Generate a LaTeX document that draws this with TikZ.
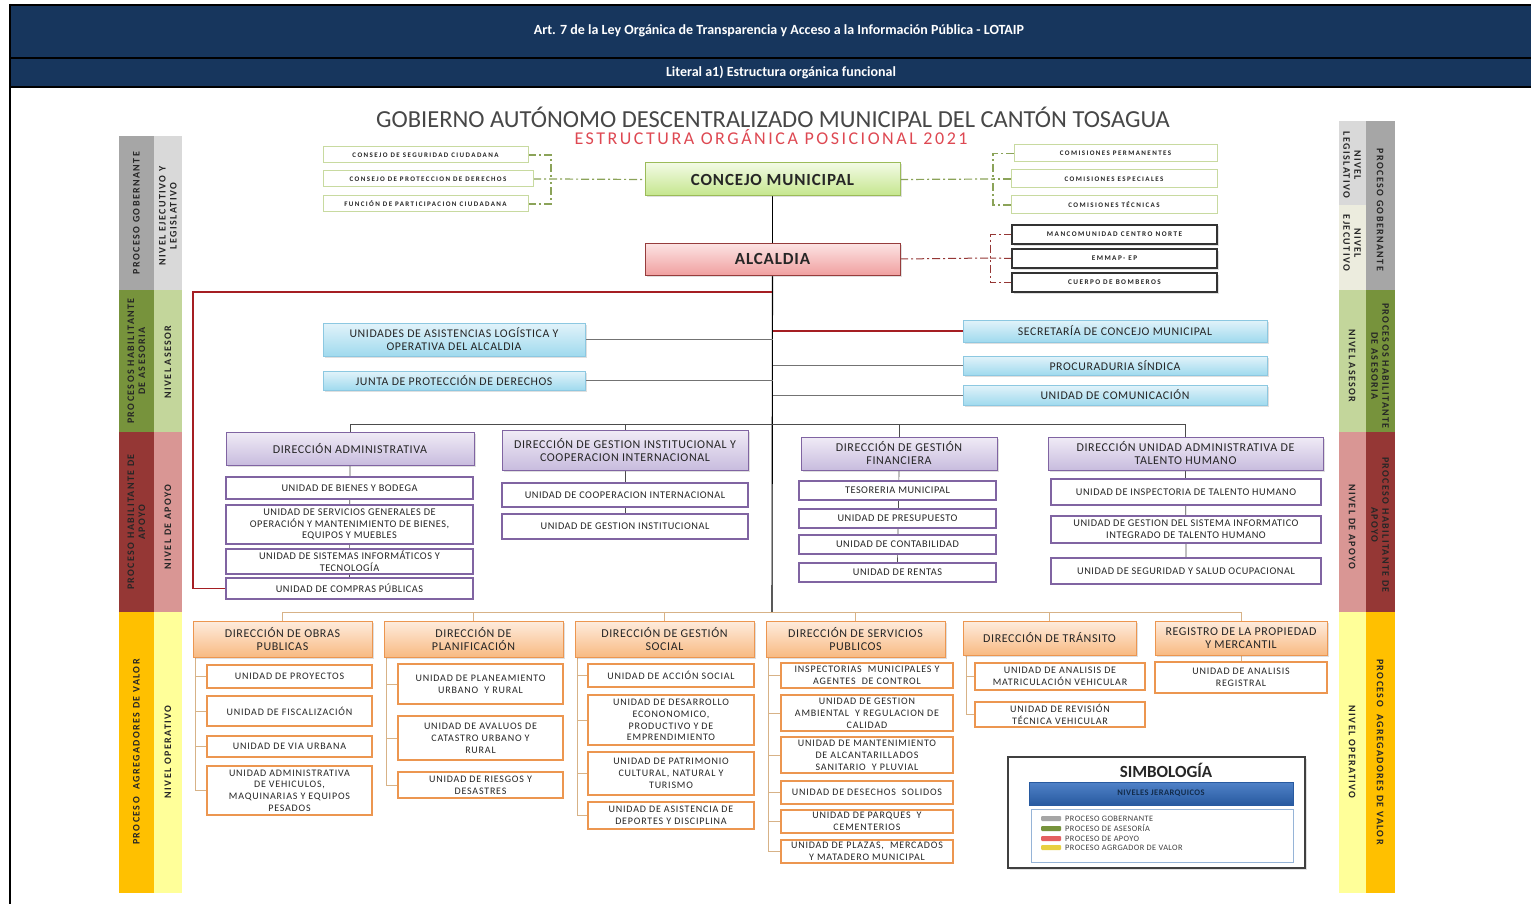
\documentclass[tikz,border=0pt]{standalone}
\usepackage{fontspec}
\setmainfont{Carlito}
\newfontfamily\fA{Carlito}[LetterSpace=5]
\newfontfamily\fD{Carlito}[LetterSpace=8]
\newfontfamily\fB{Carlito}[LetterSpace=14]
\newfontfamily\fC{Carlito}[LetterSpace=20]
\usetikzlibrary{backgrounds,shadows}
\pgfdeclarelayer{back0}
\pgfsetlayers{back0,background,main}
\definecolor{navy}{RGB}{23,54,93}
\definecolor{govD}{RGB}{166,166,166}
\definecolor{govL}{RGB}{217,217,217}
\definecolor{govE}{RGB}{236,236,222}
\definecolor{aseD}{RGB}{119,147,60}
\definecolor{aseL}{RGB}{195,214,155}
\definecolor{apoD}{RGB}{149,55,53}
\definecolor{apoL}{RGB}{217,150,148}
\definecolor{agrD}{RGB}{255,192,0}
\definecolor{agrL}{RGB}{255,255,153}
\definecolor{consB}{RGB}{200,218,160}
\definecolor{cmT}{RGB}{242,250,228}
\definecolor{cmBo}{RGB}{196,230,140}
\definecolor{cmB}{RGB}{155,187,89}
\definecolor{alT}{RGB}{252,228,228}
\definecolor{alBo}{RGB}{240,160,160}
\definecolor{alB}{RGB}{150,60,60}
\definecolor{aseT}{RGB}{226,243,250}
\definecolor{aseBo}{RGB}{160,218,238}
\definecolor{aseB}{RGB}{140,200,225}
\definecolor{purT}{RGB}{240,235,246}
\definecolor{purBo}{RGB}{200,188,222}
\definecolor{purB}{RGB}{128,100,162}
\definecolor{oraT}{RGB}{254,236,222}
\definecolor{oraBo}{RGB}{248,186,130}
\definecolor{oraB}{RGB}{236,150,80}
\definecolor{oraL}{RGB}{215,178,135}
\definecolor{redL}{RGB}{165,30,35}
\definecolor{subred}{RGB}{222,72,82}
\definecolor{njT}{RGB}{80,130,200}
\definecolor{njBo}{RGB}{40,90,160}
\definecolor{lgB}{RGB}{150,180,215}
\definecolor{leY}{RGB}{232,208,64}
\definecolor{leR}{RGB}{228,96,96}
\newcommand\mybox[7]{\node[#6,minimum width={(#4-#2)*1pt},minimum height={(#5-#3)*1pt}] (#1) at ({(#2+#4)/2},{(#3+#5)/2}) {#7};}
\begin{document}
\begin{tikzpicture}[x=1pt,y=-1pt,
  base/.style={draw, inner sep=1pt, outer sep=0pt, align=center, text=black!85},
  shad/.style={drop shadow={opacity=.25,shadow xshift=1.5pt,shadow yshift=-1.5pt}},
  cons/.style={base, draw=consB, line width=1pt, fill=white, font=\fC\bfseries\fontsize{7}{8}\selectfont},
  mbx/.style={base, draw=black!80, line width=1.6pt, fill=white, shad, font=\fC\bfseries\fontsize{7.2}{8}\selectfont},
  cmst/.style={base, draw=cmB, line width=1pt, top color=cmT, bottom color=cmBo, shad, font=\fA\bfseries\fontsize{17}{19}\selectfont},
  alst/.style={base, draw=alB, line width=1pt, top color=alT, bottom color=alBo, shad, font=\fA\bfseries\fontsize{17}{19}\selectfont},
  ase/.style={base, draw=aseB, line width=.8pt, top color=aseT, bottom color=aseBo, shad, font=\fA\fontsize{11.8}{13}\selectfont},
  dirp/.style={base, draw=purB, line width=.8pt, top color=purT, bottom color=purBo, shad, font=\fA\fontsize{12}{13}\selectfont},
  unp/.style={base, draw=purB, line width=1.3pt, fill=white, font=\fA\fontsize{10.3}{11.8}\selectfont},
  diro/.style={base, draw=oraB, line width=.8pt, top color=oraT, bottom color=oraBo, shad, font=\fA\fontsize{12}{13}\selectfont},
  uno/.style={base, draw=oraB, line width=1.5pt, fill=white, font=\fD\fontsize{10}{11.8}\selectfont},
  sideT/.style={font=\fB\bfseries\fontsize{10}{11}\selectfont, align=center, text=black!85},
  tr/.style={draw=black, line width=1.1pt},
  gdd/.style={draw=aseD!85, line width=1.2pt, dash pattern=on 8pt off 3pt on 2pt off 3pt},
  rdd/.style={draw=apoD, line width=1pt, dash pattern=on 8pt off 3pt on 2pt off 3pt},
  redl/.style={draw=redL, line width=1.6pt},
  grl/.style={draw=black!55, line width=1pt},
  pl/.style={draw=black!70, line width=.7pt},
  ol/.style={draw=oraL, line width=1pt}]
\useasboundingbox (0,0) rectangle (1531,904);
\begin{pgfonlayer}{back0}
\fill[white] (0,0) rectangle (1531,904);
\end{pgfonlayer}
% header
\fill[navy] (10,5) rectangle (1531,87);
\draw[line width=2pt] (10,5) -- (1531,5);
\draw[line width=2pt] (10,58.5) -- (1531,58.5);
\draw[line width=2pt] (10,87) -- (1531,87);
\draw[line width=2pt] (10,4) -- (10,904);
\node[text=white, font=\bfseries\fontsize{14}{16}\selectfont] (h1) at (779,31) {Art. 7 de la Ley Orgánica de Transparencia y Acceso a la Información Pública - LOTAIP};
\node[text=white, font=\bfseries\fontsize{14}{16}\selectfont] (h2) at (781,72) {Literal a1) Estructura orgánica funcional};
% titles
\node[anchor=base, inner sep=0pt, text height=15pt, text depth=0pt, font=\fontsize{24.5}{26}\selectfont, text=black!72] (t1) at (773,128) {GOBIERNO AUTÓNOMO DESCENTRALIZADO MUNICIPAL DEL CANTÓN TOSAGUA};
\node[anchor=base, inner sep=0pt, text height=11pt, text depth=0pt, font=\fB\fontsize{18}{19}\selectfont, text=subred] (t2) at (771,145) {ESTRUCTURA ORGÁNICA POSICIONAL 2021};
% left side bars
\fill[govD] (119,136) rectangle (154,290); \fill[govL] (154,136) rectangle (182,290);
\fill[aseD] (119,290) rectangle (154,432); \fill[aseL] (154,290) rectangle (182,432);
\fill[apoD] (119,432) rectangle (154,612); \fill[apoL] (154,432) rectangle (182,612);
\fill[agrD] (119,612) rectangle (154,893); \fill[agrL] (154,612) rectangle (182,893);
\node[sideT, rotate=90] (lt1) at (136.5,213) {PROCESO GOBERNANTE};
\node[sideT, rotate=90] (lt2) at (168,216) {NIVEL EJECUTIVO Y\\LEGISLATIVO};
\node[sideT, rotate=90] (lt3) at (136.5,361) {PROCESOS HABILITANTE\\DE ASESORIA};
\node[sideT, rotate=90] (lt4) at (168,362) {NIVEL ASESOR};
\node[sideT, rotate=90] (lt5) at (136.5,522) {PROCESO HABILITANTE DE\\APOYO};
\node[sideT, rotate=90] (lt6) at (168,527) {NIVEL DE APOYO};
\node[sideT, rotate=90] (lt7) at (136.5,752) {PROCESO\ \ AGREGADORES DE VALOR};
\node[sideT, rotate=90] (lt8) at (168,752) {NIVEL OPERATIVO};
% right side bars
\fill[govL] (1339,121) rectangle (1366,205); \fill[govE] (1339,205) rectangle (1366,290); \fill[govD] (1366,121) rectangle (1395,290);
\fill[aseL] (1339,290) rectangle (1366,432); \fill[aseD] (1366,290) rectangle (1395,432);
\fill[apoL] (1339,432) rectangle (1366,612); \fill[apoD] (1366,432) rectangle (1395,612);
\fill[agrL] (1339,612) rectangle (1366,893); \fill[agrD] (1366,612) rectangle (1395,893);
\node[sideT, rotate=-90] (rt1) at (1380,210) {PROCESO GOBERNANTE};
\node[sideT, rotate=-90] (rt2) at (1352,165) {NIVEL\\LEGISLATIVO};
\node[sideT, rotate=-90] (rt3) at (1352,243) {NIVEL\\EJECUTIVO};
\node[sideT, rotate=-90] (rt4) at (1380,366) {PROCESOS HABILITANTE\\DE ASESORIA};
\node[sideT, rotate=-90] (rt5) at (1352,366) {NIVEL ASESOR};
\node[sideT, rotate=-90] (rt6) at (1380,525) {PROCESO HABILITANTE DE\\APOYO};
\node[sideT, rotate=-90] (rt7) at (1352,527) {NIVEL DE APOYO};
\node[sideT, rotate=-90] (rt8) at (1380,752) {PROCESO\ \ AGREGADORES DE VALOR};
\node[sideT, rotate=-90] (rt9) at (1352,752) {NIVEL OPERATIVO};
% top level
\mybox{c1}{323}{147}{528}{163}{cons}{CONSEJO DE SEGURIDAD CIUDADANA}
\mybox{c2}{323}{171}{533}{187}{cons}{CONSEJO DE PROTECCION DE DERECHOS}
\mybox{c3}{323}{196}{528}{212}{cons}{FUNCIÓN DE PARTICIPACION CIUDADANA}
\mybox{cm}{645}{163}{900}{196}{cmst}{CONCEJO MUNICIPAL}
\mybox{k1}{1014}{145}{1217}{162}{cons}{COMISIONES PERMANENTES}
\mybox{k2}{1011}{170}{1217}{188}{cons}{COMISIONES ESPECIALES}
\mybox{k3}{1011}{196}{1217}{214}{cons}{COMISIONES TÉCNICAS}
\mybox{al}{645}{243}{900}{275}{alst}{ALCALDIA}
\mybox{m1}{1012}{225}{1217}{244}{mbx}{MANCOMUNIDAD CENTRO NORTE}
\mybox{m2}{1012}{249}{1217}{268}{mbx}{EMMAP- EP}
\mybox{m3}{1012}{273}{1217}{292}{mbx}{CUERPO DE BOMBEROS}
% asesor
\mybox{a1}{323}{323}{585}{356}{ase}{UNIDADES DE ASISTENCIAS LOGÍSTICA Y\\OPERATIVA DEL ALCALDIA}
\mybox{a2}{323}{371}{585}{390}{ase}{JUNTA DE PROTECCIÓN DE DERECHOS}
\mybox{a3}{963}{320}{1267}{342}{ase}{SECRETARÍA DE CONCEJO MUNICIPAL}
\mybox{a4}{963}{356}{1267}{375}{ase}{PROCURADURIA SÍNDICA}
\mybox{a5}{963}{385}{1267}{405}{ase}{UNIDAD DE COMUNICACIÓN}
% apoyo
\mybox{d1}{226}{432}{474}{465}{dirp}{DIRECCIÓN ADMINISTRATIVA}
\mybox{d2}{502}{430}{748}{470}{dirp}{DIRECCIÓN DE GESTION INSTITUCIONAL Y\\COOPERACION INTERNACIONAL}
\mybox{d3}{801}{437}{997}{470}{dirp}{DIRECCIÓN DE GESTIÓN\\FINANCIERA}
\mybox{d4}{1048}{437}{1323}{470}{dirp}{DIRECCIÓN UNIDAD ADMINISTRATIVA DE\\TALENTO HUMANO}
\mybox{u11}{226}{477}{473}{499}{unp}{UNIDAD DE BIENES Y BODEGA}
\mybox{u12}{226}{505}{473}{544}{unp}{UNIDAD DE SERVICIOS GENERALES DE\\OPERACIÓN Y MANTENIMIENTO DE BIENES,\\EQUIPOS Y MUEBLES}
\mybox{u13}{226}{549}{473}{574}{unp}{UNIDAD DE SISTEMAS INFORMÁTICOS Y\\TECNOLOGÍA}
\mybox{u14}{226}{578}{473}{599}{unp}{UNIDAD DE COMPRAS PÚBLICAS}
\mybox{u21}{502}{483}{748}{507}{unp}{UNIDAD DE COOPERACION INTERNACIONAL}
\mybox{u22}{502}{514}{748}{539}{unp}{UNIDAD DE GESTION INSTITUCIONAL}
\mybox{u31}{799}{481}{996}{500}{unp}{TESORERIA MUNICIPAL}
\mybox{u32}{799}{509}{996}{528}{unp}{UNIDAD DE PRESUPUESTO}
\mybox{u33}{799}{535}{996}{554}{unp}{UNIDAD DE CONTABILIDAD}
\mybox{u34}{799}{563}{996}{582}{unp}{UNIDAD DE RENTAS}
\mybox{u41}{1051}{479}{1321}{505}{unp}{UNIDAD DE INSPECTORIA DE TALENTO HUMANO}
\mybox{u42}{1051}{516}{1321}{543}{unp}{UNIDAD DE GESTION DEL SISTEMA INFORMATICO\\INTEGRADO DE TALENTO HUMANO}
\mybox{u43}{1051}{558}{1321}{584}{unp}{UNIDAD DE SEGURIDAD Y SALUD OCUPACIONAL}
% operativo
\mybox{o1}{193}{621}{372}{657}{diro}{DIRECCIÓN DE OBRAS\\PUBLICAS}
\mybox{o2}{384}{621}{563}{657}{diro}{DIRECCIÓN DE\\PLANIFICACIÓN}
\mybox{o3}{575}{621}{754}{657}{diro}{DIRECCIÓN DE GESTIÓN\\SOCIAL}
\mybox{o4}{766}{621}{945}{657}{diro}{DIRECCIÓN DE SERVICIOS\\PUBLICOS}
\mybox{o5}{963}{621}{1136}{655}{diro}{DIRECCIÓN DE TRÁNSITO}
\mybox{o6}{1155}{621}{1327}{655}{diro}{REGISTRO DE LA PROPIEDAD\\Y MERCANTIL}
\mybox{p11}{207}{665}{372}{688}{uno}{UNIDAD DE PROYECTOS}
\mybox{p12}{207}{696}{372}{726}{uno}{UNIDAD DE FISCALIZACIÓN}
\mybox{p13}{207}{736}{372}{757}{uno}{UNIDAD DE VIA URBANA}
\mybox{p14}{207}{766}{372}{815}{uno}{UNIDAD ADMINISTRATIVA\\DE VEHICULOS,\\MAQUINARIAS Y EQUIPOS\\PESADOS}
\mybox{p21}{398}{664}{563}{704}{uno}{UNIDAD DE PLANEAMIENTO\\URBANO\ \ Y RURAL}
\mybox{p22}{398}{716}{563}{760}{uno}{UNIDAD DE AVALUOS DE\\CATASTRO URBANO Y\\RURAL}
\mybox{p23}{398}{772}{563}{798}{uno}{UNIDAD DE RIESGOS Y\\DESASTRES}
\mybox{p31}{588}{664}{754}{687}{uno}{UNIDAD DE ACCIÓN SOCIAL}
\mybox{p32}{588}{695}{754}{745}{uno}{UNIDAD DE DESARROLLO\\ECONONOMICO,\\PRODUCTIVO Y DE\\EMPRENDIMIENTO}
\mybox{p33}{588}{752}{754}{795}{uno}{UNIDAD DE PATRIMONIO\\CULTURAL, NATURAL Y\\TURISMO}
\mybox{p34}{588}{802}{754}{829}{uno}{UNIDAD DE ASISTENCIA DE\\DEPORTES Y DISCIPLINA}
\mybox{p41}{781}{663}{953}{688}{uno}{INSPECTORIAS\ \ MUNICIPALES Y\\AGENTES\ \ DE CONTROL}
\mybox{p42}{781}{695}{953}{731}{uno}{UNIDAD DE GESTION\\AMBIENTAL\ \ Y REGULACION DE\\CALIDAD}
\mybox{p43}{781}{737}{953}{773}{uno}{UNIDAD DE MANTENIMIENTO\\DE ALCANTARILLADOS\\SANITARIO\ \ Y PLUVIAL}
\mybox{p44}{781}{781}{953}{804}{uno}{UNIDAD DE DESECHOS\ \ SOLIDOS}
\mybox{p45}{781}{810}{953}{833}{uno}{UNIDAD DE PARQUES\ \ Y\\CEMENTERIOS}
\mybox{p46}{781}{840}{953}{863}{uno}{UNIDAD DE PLAZAS,\ \ MERCADOS\\Y MATADERO MUNICIPAL}
\mybox{p51}{975}{663}{1145}{690}{uno}{UNIDAD DE ANALISIS DE\\MATRICULACIÓN VEHICULAR}
\mybox{p52}{975}{702}{1145}{727}{uno}{UNIDAD DE REVISIÓN\\TÉCNICA VEHICULAR}
\mybox{p61}{1155}{662}{1327}{693}{uno}{UNIDAD DE ANALISIS\\REGISTRAL}
% simbologia
\mybox{sb}{1008}{757}{1305}{868}{draw=black!75, line width=2pt, fill=white, shad}{}
\node[font=\bfseries\fontsize{17}{19}\selectfont, text=black!85] (sbt) at (1166,770) {SIMBOLOGÍA};
\mybox{nj}{1029}{782}{1293}{805}{base, draw=njBo, line width=.6pt, top color=njT, bottom color=njBo, text=navy!80!black, font=\fA\bfseries\fontsize{8.5}{9}\selectfont}{NIVELES JERARQUICOS}
\mybox{lg}{1031}{809}{1293}{862}{draw=lgB, line width=.8pt, fill=white}{}
\fill[govD, rounded corners=1pt] (1041,816) rectangle (1061,821);
\fill[aseD, rounded corners=1pt] (1041,826) rectangle (1061,831);
\fill[leR, rounded corners=1pt] (1041,836) rectangle (1061,841);
\fill[leY, rounded corners=1pt] (1041,845) rectangle (1061,850);
\begin{scope}[every node/.style={anchor=west, font=\fA\fontsize{8.3}{9}\selectfont, text=black!75, inner sep=0pt}]
\node (g1) at (1065,818.5) {PROCESO GOBERNANTE};
\node (g2) at (1065,828.5) {PROCESO DE ASESORÍA};
\node (g3) at (1065,838.5) {PROCESO DE APOYO};
\node (g4) at (1065,847.5) {PROCESO AGRGADOR DE VALOR};
\end{scope}
% connectors
\begin{scope}[on background layer]
\draw[tr] (cm.south) -- (al.north);
\coordinate (bot) at (772,612);
\draw[tr] (al.south) -- (bot);
\coordinate (jl) at (551,179);
\draw[gdd] (c1.east) -| (jl);
\draw[gdd] (c3.east) -| (jl);
\draw[gdd] (c2.east) -- (jl) -- (cm.west);
\coordinate (jr) at (993,179);
\draw[gdd] (cm.east) -- (jr);
\draw[gdd] (k1.west) -| (jr);
\draw[gdd] (k3.west) -| (jr);
\draw[gdd] (k2.west) -- (jr);
\coordinate (ja) at (990,258);
\draw[rdd] (al.east) -- (ja);
\draw[rdd] (m1.west) -| (ja);
\draw[rdd] (m3.west) -| (ja);
\draw[rdd] (m2.west) -- (ja);
\coordinate (r0) at (772,292);
\coordinate (rL) at (193,292);
\draw[redl] (r0) -- (rL) |- (u14.west);
\draw[redl] (a3.west) -- (al.south |- a3.west);
\draw[grl] (a1.east) -- (al.south |- a1.east);
\draw[grl] (a2.east) -- (al.south |- a2.east);
\draw[grl] (a4.west) -- (al.south |- a4.west);
\draw[grl] (a5.west) -- (al.south |- a5.west);
\coordinate (hA) at (772,424);
\draw[pl] (d1.north) -- (d1.north |- hA) -- (d4.north |- hA) -- (d4.north);
\draw[pl] (d2.north) -- (d2.north |- hA);
\draw[pl] (d3.north) -- (d3.north |- hA);
\draw[pl] (d1.south) -- (u14.north);
\draw[pl] (d2.south) -- (u22.north);
\draw[pl] (d3.south) -- (u34.north);
\draw[pl] (d4.south) -- (u43.north);
\draw[ol] (o1.north) -- (o1.north |- bot) -- (o6.north |- bot) -- (o6.north);
\foreach \n in {o2,o3,o4,o5} \draw[ol] (\n.north) -- (\n.north |- bot);
\coordinate (v1) at ([xshift=2pt]o1.south west);
\coordinate (v2) at ([xshift=2pt]o2.south west);
\coordinate (v3) at ([xshift=2pt]o3.south west);
\coordinate (v4) at ([xshift=2pt]o4.south west);
\coordinate (v5) at ([xshift=3pt]o5.south west);
\draw[ol] (v1) |- (p14.west);
\foreach \n in {p11,p12,p13} \draw[ol] (\n.west) -- (v1 |- \n.west);
\draw[ol] (v2) |- (p23.west);
\foreach \n in {p21,p22} \draw[ol] (\n.west) -- (v2 |- \n.west);
\draw[ol] (v3) |- (p34.west);
\foreach \n in {p31,p32,p33} \draw[ol] (\n.west) -- (v3 |- \n.west);
\draw[ol] (v4) |- (p46.west);
\foreach \n in {p41,p42,p43,p44,p45} \draw[ol] (\n.west) -- (v4 |- \n.west);
\draw[ol] (v5) |- (p52.west);
\draw[ol] (p51.west) -- (v5 |- p51.west);
\draw[ol] (o6.south) -- (p61.north);
\end{scope}
\end{tikzpicture}
\end{document}
